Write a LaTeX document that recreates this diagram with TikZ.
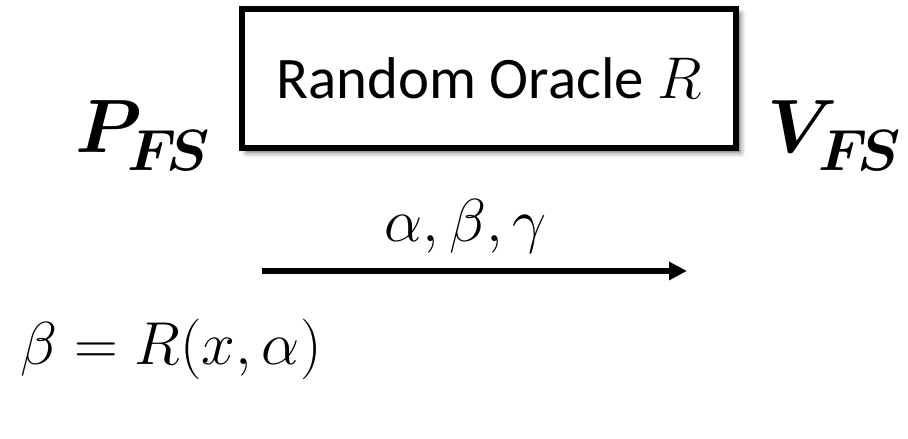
\documentclass[tikz,border=0pt]{standalone}
\usepackage{fix-cm}
\usepackage{amsmath,bm}
\usepackage{fontspec}
\setmainfont{Carlito}
\usepackage{tikz}
\usetikzlibrary{arrows.meta,positioning,shadows.blur}

\tikzset{
  party/.style={inner sep=0pt,font=\fontsize{43}{50}\selectfont},
  msg/.style={inner sep=0pt,font=\fontsize{34.5}{40}\selectfont}
}
% #1 letter, #2 kern before the subscript
\newcommand{\partyname}[2]{$\boldsymbol{#1}$\kern#2\raisebox{-0.36cm}{\fontsize{33}{40}\selectfont$\boldsymbol{F\!S}$}}

\begin{document}
\begin{tikzpicture}
  \useasboundingbox (0,0) rectangle (18.16,8.78);
  % oracle box
  \node[draw,line width=0.12cm,fill=white,minimum width=9.88cm,minimum height=2.78cm,align=center,font=\fontsize{33.5}{38}\selectfont,blur shadow={shadow xshift=0.09cm,shadow yshift=-0.09cm,shadow blur radius=0.1cm,shadow opacity=60}] (oracle) at (9.78,7.21) {Random Oracle $R$};
  % parties
  \node[party,anchor=base west] (prover) at (1.5,5.72) {\partyname{P}{-0.3cm}};
  \node[party,anchor=base west] (verifier) at (15.35,5.72) {\partyname{V}{-0.4cm}};
  % message
  \node[msg,anchor=base] (msglabel) at (9.32,3.94) {$\alpha,\beta,\gamma$};
  \coordinate (msgstart) at (5.24,3.36);
  \coordinate (msgend) at (13.74,3.36);
  \draw[-{Triangle[length=0.36cm,width=0.35cm]},line width=0.12cm] (msgstart) -- (msgend);
  \node[msg,anchor=base west] (challenge) at (0.4,1.48) {$\beta = R(x,\alpha)$};
\end{tikzpicture}
\end{document}
